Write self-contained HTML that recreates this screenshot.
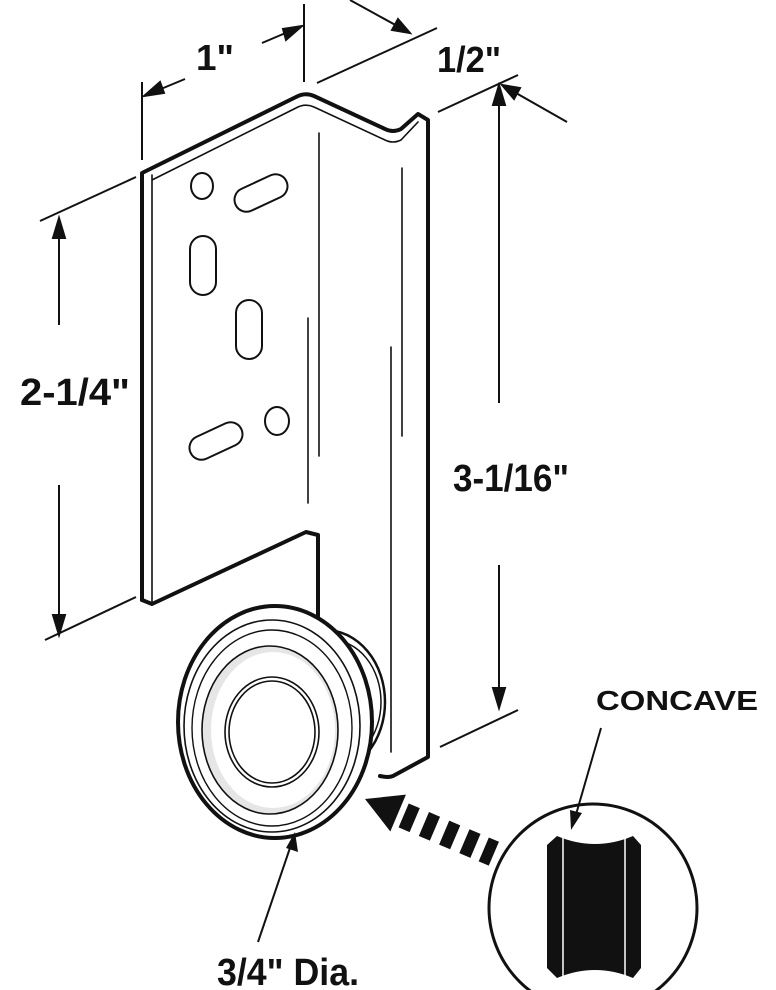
<!DOCTYPE html>
<html><head><meta charset="utf-8"><style>
html,body{margin:0;padding:0;background:#fff;}
svg{display:block;}
text{font-family:"Liberation Sans",Arial,sans-serif;font-weight:bold;fill:#111;}
</style></head><body>
<svg width="776" height="990" viewBox="0 0 776 990" xmlns="http://www.w3.org/2000/svg">
<g stroke="#111" fill="none" stroke-width="2">
<line x1="142" y1="82" x2="142" y2="160"/>
<line x1="304" y1="4" x2="304" y2="82"/>
<path d="M185,79 L144,96" />
<path d="M262,43 L302,26"/>
<polygon points="144,96 160,82 164,93" fill="#111"/>
<polygon points="302,26 286,40 283,29" fill="#111"/>
<line x1="317" y1="83" x2="437" y2="28"/>
<line x1="350" y1="0" x2="410" y2="33"/>
<polygon points="410,33 392,30 398,19" fill="#111"/>
<line x1="438" y1="112" x2="518" y2="75"/>
<line x1="567" y1="122" x2="502" y2="85"/>
<polygon points="502,85 520,88 514,99" fill="#111"/>
<line x1="499" y1="90" x2="499" y2="403"/>
<polygon points="499,85 493,105 505,105" fill="#111"/>
<line x1="499" y1="565" x2="499" y2="705"/>
<polygon points="499,708 493,688 505,688" fill="#111"/>
<line x1="440" y1="747" x2="518" y2="710"/>
<line x1="40" y1="221" x2="136" y2="177"/>
<line x1="45" y1="640" x2="136" y2="597"/>
<line x1="59" y1="222" x2="59" y2="325"/>
<polygon points="59,218 53,238 65,238" fill="#111"/>
<line x1="59" y1="485" x2="59" y2="632"/>
<polygon points="59,635 53,615 65,615" fill="#111"/>
</g>
<g stroke="#111" fill="#fff" stroke-linecap="round" stroke-linejoin="round">
<path d="M142,600 L142,173 L296,97 Q305,92 314,96 L385,129 Q393,133 401,129 L418,114 L428,120 L428,757 L393,776 Q388,778 380,776" fill="none" stroke-width="4"/>
<path d="M142,600 L152,604 L306,532 L318,535 L318,650" fill="none" stroke-width="4"/>
<path d="M152,175 L152,602 M152,180 L296,108 Q305,103 314,107 L385,140 Q393,144 401,140 L418,122" fill="none" stroke-width="1.6"/>
<g fill="none" stroke-width="1.6">
<line x1="319" y1="133" x2="319" y2="456"/>
<line x1="308" y1="318" x2="308" y2="503"/>
<line x1="402" y1="168" x2="402" y2="436"/>
<line x1="391" y1="347" x2="391" y2="752"/>
</g>
<g stroke-width="2">
<ellipse cx="202" cy="186" rx="11" ry="13"/>
<rect x="233" y="181" width="56" height="24" rx="12" transform="rotate(-25 261 193)"/>
<rect x="190" y="236" width="26" height="59" rx="13"/>
<rect x="236" y="300" width="26" height="59" rx="13"/>
<ellipse cx="277" cy="421" rx="12" ry="14"/>
<rect x="188" y="429" width="56" height="24" rx="12" transform="rotate(-25 216 441)"/>
</g>
</g>
<g stroke="#111" fill="#fff">
<ellipse cx="325" cy="702" rx="60" ry="72" stroke-width="2.5"/>
<ellipse cx="331" cy="702" rx="50" ry="62" stroke-width="1.5"/>
<ellipse cx="275" cy="722" rx="97" ry="116" stroke-width="4"/>
<ellipse cx="272" cy="726" rx="88" ry="106" stroke-width="1.6"/>
<ellipse cx="272" cy="728" rx="80" ry="98" stroke-width="1.4"/>
<ellipse cx="270" cy="730" rx="68" ry="84" stroke-width="1.6" fill="#e6e6e6"/>
<ellipse cx="273" cy="730" rx="62" ry="78" stroke="none" fill="#fff"/>
<ellipse cx="272" cy="732" rx="47" ry="55" stroke-width="1.6" fill="#fff"/>
<ellipse cx="272" cy="732" rx="43" ry="51" stroke-width="1.6" fill="#fff"/>
</g>
<g fill="#111" transform="translate(365,799) rotate(23)">
<polygon points="0,0 36,-20 36,20"/>
<rect x="42" y="-13" width="12" height="26"/>
<rect x="64" y="-13" width="12" height="26"/>
<rect x="86" y="-13" width="12" height="26"/>
<rect x="108" y="-13" width="12" height="26"/>
<rect x="129" y="-13" width="11" height="26"/>
</g>
<circle cx="593" cy="908" r="104" fill="#fff" stroke="#111" stroke-width="3"/>
<path d="M547,845 L557,836 Q595,852 633,836 L641,845 L641,968 L633,978 Q595,962 557,978 L547,968 Z" fill="#111"/>
<line x1="563" y1="838" x2="563" y2="976" stroke="#fff" stroke-width="1.5"/>
<line x1="625" y1="838" x2="625" y2="976" stroke="#fff" stroke-width="1.5"/>
<g stroke="#111" stroke-width="2">
<line x1="601" y1="728" x2="575" y2="818"/>
<line x1="258" y1="942" x2="292" y2="842"/>
</g>
<polygon points="571,830 570,810 582,813" fill="#111"/>
<polygon points="295,832 298,852 286,848" fill="#111"/>
<text x="196" y="70" font-size="36" textLength="38" lengthAdjust="spacingAndGlyphs">1"</text>
<text x="437" y="72" font-size="36" textLength="64" lengthAdjust="spacingAndGlyphs">1/2"</text>
<text x="20" y="405" font-size="38" textLength="110" lengthAdjust="spacingAndGlyphs">2-1/4"</text>
<text x="453" y="491" font-size="38" textLength="116" lengthAdjust="spacingAndGlyphs">3-1/16"</text>
<text x="596" y="710" font-size="28" textLength="162" lengthAdjust="spacingAndGlyphs">CONCAVE</text>
<text x="217" y="985" font-size="38" textLength="142" lengthAdjust="spacingAndGlyphs">3/4" Dia.</text>
</svg>
</body></html>
